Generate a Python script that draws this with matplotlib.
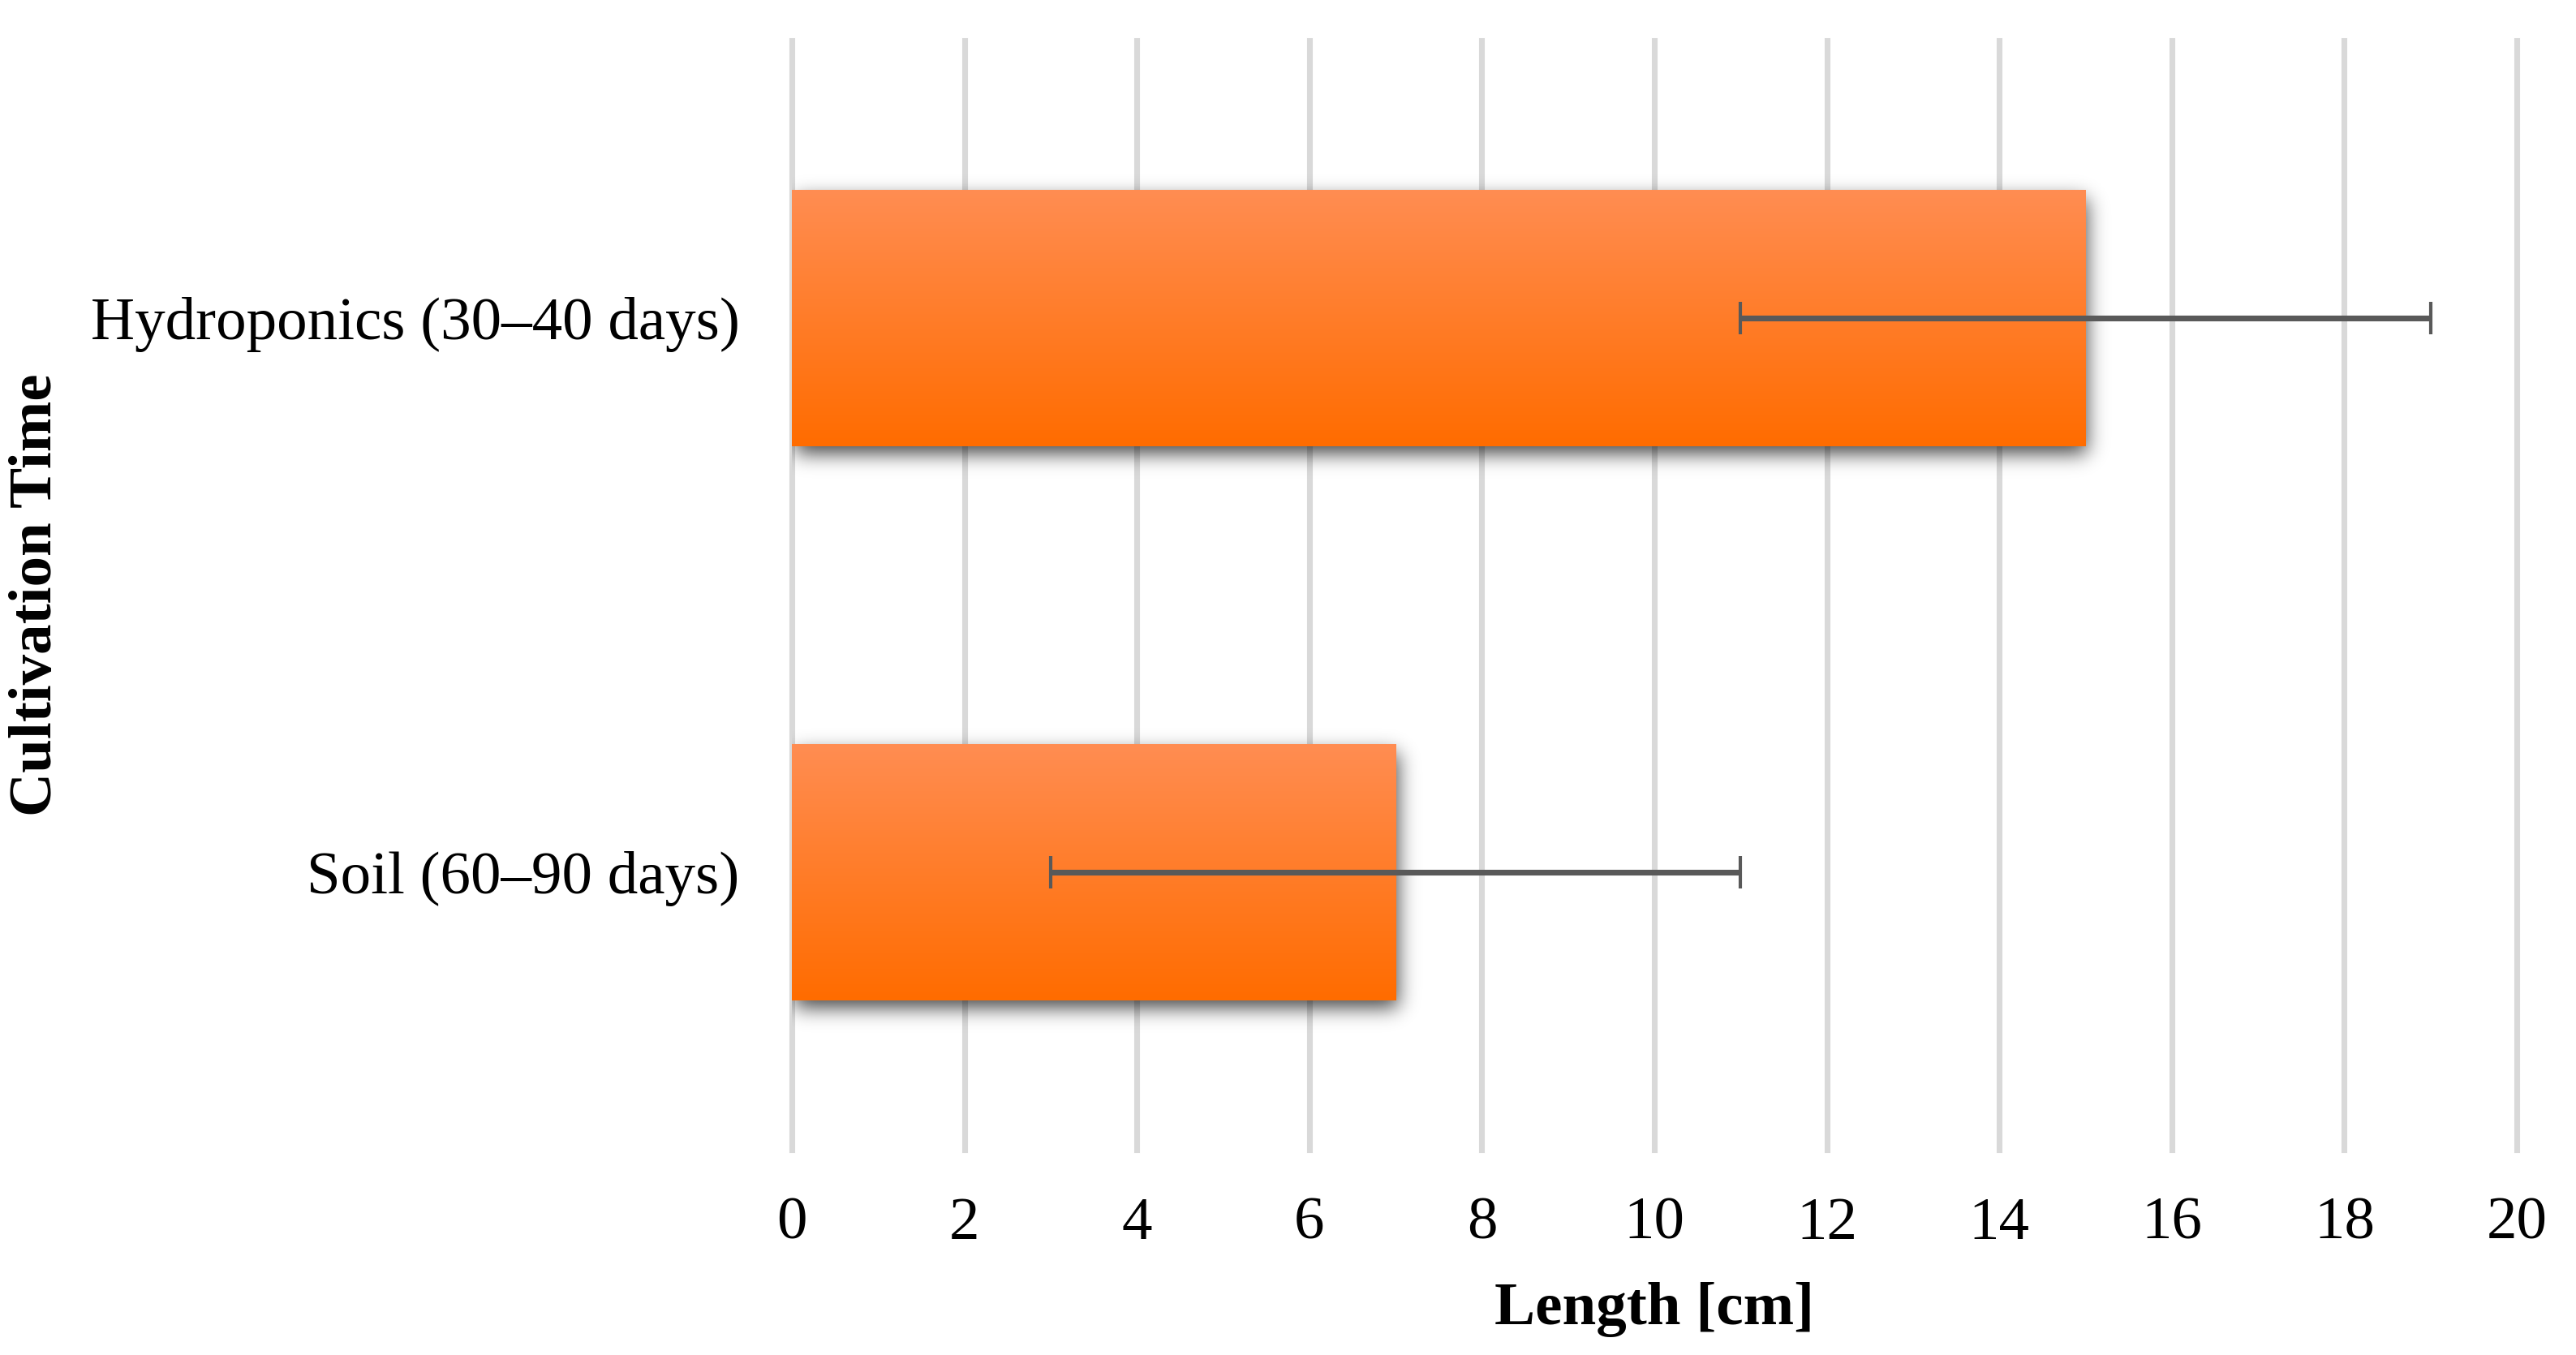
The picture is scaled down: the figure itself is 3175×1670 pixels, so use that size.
import math
import numpy as np
import matplotlib
matplotlib.use('Agg')
import matplotlib.pyplot as plt
from matplotlib.colors import LinearSegmentedColormap

# datos
categories = ['Soil (60–90 days)', 'Hydroponics (30–40 days)']
lengths = [7, 15]
errors = [4, 4]
xticks = list(range(0, 21, 2))

plt.rcParams['font.family'] = ['Liberation Serif', 'DejaVu Serif']

W, H, DPI = 3175, 1670, 300
fig = plt.figure(figsize=(W / DPI, H / DPI), dpi=DPI)
ax_pos = [0.3074, 0.1515, 0.6696, 0.8185]
ax = fig.add_axes(ax_pos)

xlim = (0, 20)
ylim = (-0.5, 1.5)
ypos = np.arange(len(categories))
bar_h = 0.462

# pixeles por unidad de datos (para la sombra)
px_x = W * ax_pos[2] / (xlim[1] - xlim[0])
px_y = H * ax_pos[3] / (ylim[1] - ylim[0])

erf = np.frompyfunc(math.erf, 1, 1)


def Phi(z):
    return 0.5 * (1 + erf(z / math.sqrt(2)).astype(float))


# sombra difusa abajo/derecha
sig, dx, dy, amax = 12, 3, -10, 0.72
sx, sy = sig / px_x, sig / px_y
for y, v in zip(ypos, lengths):
    x0, x1 = 0 + dx / px_x, v + dx / px_x
    y0, y1 = y - bar_h / 2 + dy / px_y, y + bar_h / 2 + dy / px_y
    ex = [x0 - 4 * sx, x1 + 4 * sx, y0 - 4 * sy, y1 + 4 * sy]
    gx = np.linspace(ex[0], ex[1], 400)
    gy = np.linspace(ex[2], ex[3], 200)
    ax_ = Phi((gx - x0) / sx) - Phi((gx - x1) / sx)
    ay_ = Phi((gy - y0) / sy) - Phi((gy - y1) / sy)
    alpha = amax * np.outer(ay_, ax_)
    img = np.zeros((len(gy), len(gx), 4))
    img[..., 3] = alpha
    ax.imshow(img, extent=ex, origin='lower', aspect='auto',
              interpolation='bilinear', zorder=1)

# barras con degradado
bars = ax.barh(ypos, lengths, height=bar_h, color='none', edgecolor='none', zorder=2)
cmap = LinearSegmentedColormap.from_list('naranja', ['#FF6C00', '#FF8D52'])
grad = np.linspace(0, 1, 256).reshape(-1, 1)
for b in bars:
    bx, by = b.get_x(), b.get_y()
    im = ax.imshow(grad, cmap=cmap, extent=[bx, bx + b.get_width(), by, by + b.get_height()],
                   origin='lower', aspect='auto', zorder=2)
    im.set_clip_path(b)

ax.errorbar(lengths, ypos, xerr=errors, fmt='none', ecolor='#595959',
            elinewidth=1.7, capsize=4.7, capthick=1.0, zorder=4)

ax.set_xlim(*xlim)
ax.set_ylim(*ylim)
ax.set_xticks(xticks)
ax.set_yticks(ypos)
ax.set_yticklabels(categories)
ax.tick_params(axis='both', length=0, labelsize=18, colors='black')
ax.tick_params(axis='x', pad=14)
ax.tick_params(axis='y', pad=15.5)
ax.grid(axis='x', color='#d9d9d9', linewidth=1.7, zorder=0)
ax.set_axisbelow(True)
for l in ax.get_xgridlines():
    l.set_clip_on(False)
for s in ax.spines.values():
    s.set_visible(False)

ax.set_xlabel('Length [cm]', fontsize=18, fontweight='bold')
ax.xaxis.set_label_coords(0.5, -0.144)
ax.xaxis.label.set_va('center')
ax.set_ylabel('Cultivation Time', fontsize=18, fontweight='bold')
ax.yaxis.set_label_coords(-0.438, 0.5)
ax.yaxis.label.set_va('center')

fig.savefig('out.png', dpi=DPI)
